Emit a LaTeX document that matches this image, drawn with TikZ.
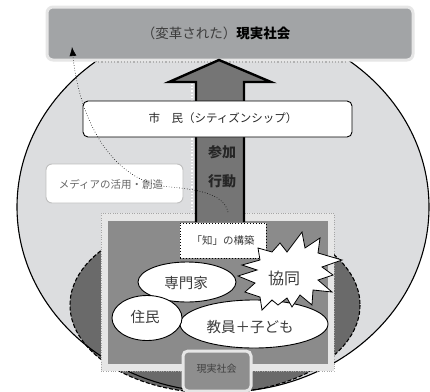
\documentclass[tikz,border=0pt]{standalone}
\usepackage{fontspec}
\newfontfamily\cjk{Noto Sans CJK JP}
\usetikzlibrary{shapes.geometric,arrows.meta}
\definecolor{lightfill}{RGB}{220,221,223}
\definecolor{darkfill}{RGB}{106,106,106}
\definecolor{topfill}{RGB}{162,164,166}
\definecolor{framefill}{RGB}{230,230,230}
\definecolor{innerfill}{RGB}{139,139,139}
\definecolor{arrowfill}{RGB}{117,117,117}
\definecolor{smallbox}{RGB}{142,142,142}
\definecolor{txtgray}{RGB}{60,60,60}
\begin{document}
\begin{tikzpicture}[x=1pt,y=-1pt,
  topbox/.style={draw=framefill, line width=3, fill=topfill, rounded corners=6, minimum width=366, minimum height=53, inner sep=0},
  whitebox/.style={draw=black, line width=0.9, fill=white, rounded corners=5, inner sep=0},
  mediabox/.style={draw=black!25, line width=0.9, fill=white, rounded corners=6, inner sep=0},
  ell/.style={ellipse, draw=black, line width=0.9, fill=white, inner sep=0},
  jp/.style={font=\cjk\fontsize{14.5}{16}\selectfont, text=txtgray}]
\useasboundingbox (0,0) rectangle (430,391);
\fill[white] (0,0) rectangle (430,391);
% background ellipses
\fill[lightfill] (223,207) ellipse [x radius=206, y radius=185];
\filldraw[fill=darkfill, draw=black, line width=1.1, dash pattern=on 4pt off 2pt] (215,305) ellipse [x radius=145, y radius=88];
\draw[line width=1.1] (223,207) ellipse [x radius=206, y radius=185];
% top box
\node[topbox] (top) at (230,33.5) {};
\draw[black!30, line width=1.2, dotted] (95,62) -- (345,62);
\node[font=\cjk\fontsize{13.5}{15}\selectfont, text=txtgray] (toptext) at (216,33) {（変革された）\textcolor{black}{\bfseries 現実社会}};
% square frame
\node[draw=black!35, dotted, fill=framefill, minimum width=233, minimum height=158, inner sep=0] (frame) at (217.5,292) {};
\node[fill=innerfill, minimum width=220, minimum height=143, inner sep=0] (inner) at (218,292.5) {};
% arrow
\fill[arrowfill] (196,222) -- (196,82) -- (169,82) -- (219,60) -- (271,82) -- (244,82) -- (244,222) -- cycle;
\draw[line width=2.4, line join=miter] (196,222) -- (196,82) -- (169,82) -- (219,60) -- (271,82) -- (244,82) -- (244,222);
\draw[white, line width=1.2, dotted] (192,84) -- (192,212);
% citizen box
\node[whitebox, minimum width=269, minimum height=36] (citizen) at (217.5,119) {};
\node[font=\cjk\fontsize{11.5}{13}\selectfont, text=black!85] (citizentext) at (223,118.5) {市　民（シティズンシップ）};
\node[font=\cjk\bfseries\fontsize{14}{16}\selectfont, text=black!85] (sanka) at (222,152) {参加};
\node[font=\cjk\bfseries\fontsize{14}{16}\selectfont, text=black!85] (kodo) at (222,181) {行動};
% media box
\node[mediabox, minimum width=137, minimum height=39] (media) at (114.5,183.5) {};
\node[font=\cjk\fontsize{10.5}{12}\selectfont, text=black!60] (mediatext) at (111,184) {メディアの活用・創造};
% dotted curve arrow
\coordinate (cs) at (228,212);
\coordinate (ce) at (72,47);
\draw[line width=0.6, dotted, -{Latex[length=9pt,width=7pt]}] (cs) .. controls (224,196) and (205,190) .. (170,187) .. controls (115,183) and (80,125) .. (ce);
% knowledge box
\node[draw=black, line width=0.9, dotted, fill=white, minimum width=86, minimum height=35, inner sep=0] (chi) at (223,240.5) {};
\node[font=\cjk\fontsize{10.5}{12}\selectfont, text=txtgray] (chitext) at (223,240.5) {「知」の構築};
% ellipses
\node[ell, minimum width=98, minimum height=40] (senmon) at (187,282) {};
\node[ell, minimum width=148, minimum height=48] (kyoin) at (254,324) {};
\node[ell, minimum width=70, minimum height=45] (jumin) at (147,318) {};
\node[jp] (senmontext) at (186,283) {専門家};
\node[jp] (kyointext) at (250,327) {教員＋子ども};
\node[jp] (jumintext) at (145,317) {住民};
% star
\filldraw[fill=white, draw=black, line width=0.8, line join=miter]
  (238,276) -- (257,270) -- (242,265) -- (260,260) -- (258,248) -- (272,252) -- (280,243)
  -- (287,252) -- (302,232) -- (305,248) -- (320,238) -- (318,253) -- (342,260) -- (322,267)
  -- (333,275) -- (318,280) -- (332,292) -- (313,290) -- (312,305) -- (300,295) -- (292,307)
  -- (287,298) -- (278,305) -- (272,300) -- (262,310) -- (260,297) -- (245,292) -- (255,283) -- cycle;
\node[font=\cjk\fontsize{16}{18}\selectfont, text=txtgray] (kyodo) at (284,278) {協同};
% bottom small box
\node[draw=framefill, line width=3, fill=smallbox, rounded corners=5, minimum width=68, minimum height=40, inner sep=0] (genjitsu) at (217,371) {};
\node[font=\cjk\fontsize{10}{12}\selectfont, text=black!75] (genjitsutext) at (216.5,369) {現実社会};
\end{tikzpicture}
\end{document}
